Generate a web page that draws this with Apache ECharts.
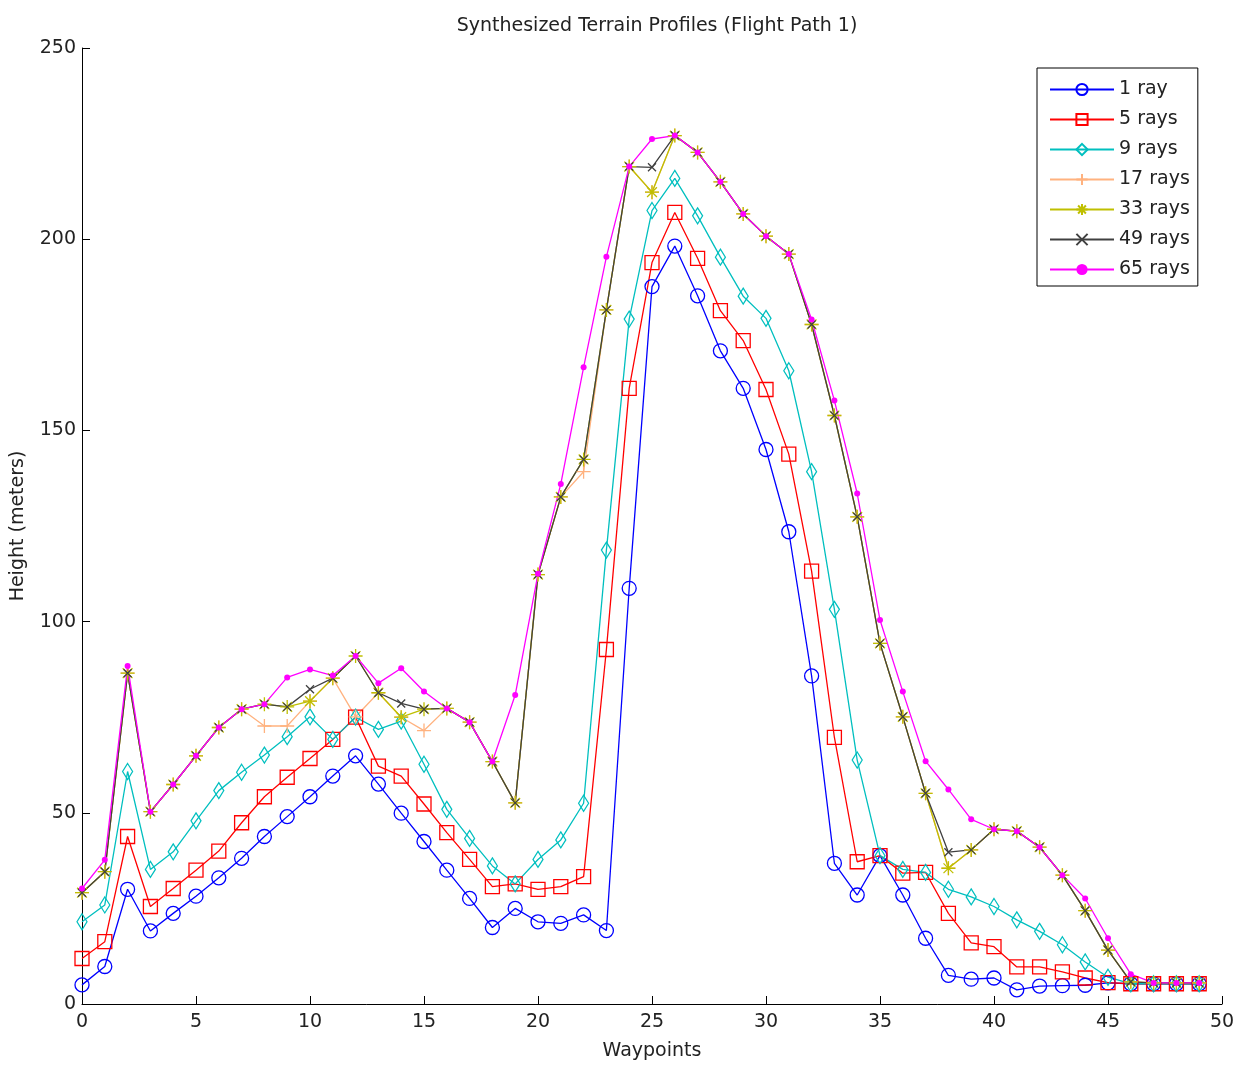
<!DOCTYPE html>
<html>
<head>
<meta charset="utf-8">
<script src="https://cdn.jsdelivr.net/npm/echarts@6/dist/echarts.min.js"></script>
<style>html,body{margin:0;padding:0;background:#fff}#c{width:1239px;height:1066px}</style>
</head>
<body>
<div id="c"></div>
<script>
var waypoints = [0,1,2,3,4,5,6,7,8,9,10,11,12,13,14,15,16,17,18,19,20,21,22,23,24,25,26,27,28,29,30,31,32,33,34,35,36,37,38,39,40,41,42,43,44,45,46,47,48,49];

var ray1 = [5, 9.8, 30, 19.1, 23.7, 28.2, 33, 38.1, 43.8, 49, 54.2, 59.6, 64.9, 57.5, 49.9, 42.5, 35, 27.6, 20, 25, 21.5, 21.1, 23.3, 19.2, 108.7, 187.6, 198.2, 185.2, 170.8, 161, 145, 123.5, 85.8, 36.8, 28.5, 38.8, 28.5, 17.2, 7.5, 6.5, 6.8, 3.7, 4.7, 4.8, 4.9, 5.5, 5.3, 5.3, 5.3, 5.3];
var rays5 = [11.9, 16.3, 43.8, 25.5, 30.2, 35, 40, 47.4, 54.2, 59.3, 64.2, 69.2, 75, 62.2, 59.6, 52.3, 44.8, 37.8, 30.7, 31.4, 30, 30.7, 33.3, 92.7, 161, 193.9, 207, 195, 181.3, 173.5, 160.7, 143.8, 113.2, 69.7, 37.2, 38.8, 34.2, 34.4, 23.7, 16, 15, 9.7, 9.7, 8.4, 6.8, 5.6, 5.3, 5.3, 5.3, 5.3];
var rays9 = [21.5, 25.9, 60.8, 35.2, 39.8, 47.9, 55.8, 60.6, 65.1, 69.9, 75.1, 69.2, 75, 71.8, 74, 62.7, 50.9, 43.3, 36.1, 31.4, 37.8, 42.9, 52.5, 118.7, 179.1, 207.5, 215.9, 206.1, 195.3, 185.1, 179.3, 165.6, 139.2, 103.2, 63.8, 38.8, 35.2, 34.4, 30, 28, 25.5, 22, 19, 15.5, 11, 7, 5.3, 5.3, 5.3, 5.3];
var rays17 = [29.1, 34.6, 86.5, 50.3, 57.4, 64.9, 72.3, 77.1, 72.7, 72.7, 79.2, 85.2, 75.1, 81.4, 75, 71.5, 77.3, 73.7, 63.4, 52.6, 112.3, 132.6, 139.2, 181.5, 219, 212.3, 227.1, 222.7, 215, 206.6, 200.8, 196.1, 177.7, 153.9, 127.4, 94.3, 75.1, 55.1, 35.5, 40.3, 45.7, 45.2, 41, 33.7, 24.4, 14.1, 5.8, 5.5, 5.5, 5.5];
var rays33 = [29.1, 34.6, 86.5, 50.3, 57.4, 64.9, 72.3, 77.1, 78.4, 77.7, 79.2, 85.2, 91, 81.4, 75, 77.1, 77.3, 73.7, 63.4, 52.6, 112.3, 132.6, 142.4, 181.5, 219, 212.3, 227.1, 222.7, 215, 206.6, 200.8, 196.1, 177.7, 153.9, 127.4, 94.3, 75.1, 55.1, 35.5, 40.3, 45.7, 45.2, 41, 33.7, 24.4, 14.1, 5.8, 5.5, 5.5, 5.5];
var rays49 = [29.1, 34.6, 86.5, 50.3, 57.4, 64.9, 72.3, 77.1, 78.4, 77.7, 82.3, 85.2, 91, 81.4, 78.6, 77.1, 77.3, 73.7, 63.4, 52.6, 112.3, 132.6, 142.4, 181.5, 219, 218.8, 227.1, 222.7, 215, 206.6, 200.8, 196.1, 177.7, 153.9, 127.4, 94.3, 75.1, 55.1, 39.7, 40.3, 45.7, 45.2, 41, 33.7, 24.4, 14.1, 5.8, 5.5, 5.5, 5.5];
var rays65 = [30.2, 37.7, 88.4, 50.3, 57.4, 64.9, 72.3, 77.1, 78.4, 85.4, 87.5, 85.9, 91, 83.9, 87.8, 81.7, 77.3, 73.7, 63.4, 80.8, 112.5, 136, 166.5, 195.4, 219, 226.2, 227.1, 222.7, 215, 206.6, 200.8, 196.1, 179, 157.8, 133.5, 100.4, 81.7, 63.5, 56.1, 48.3, 45.7, 45.2, 41, 33.7, 27.6, 17.2, 7.8, 5.5, 5.5, 5.5];

var seriesNames = ['1 ray', '5 rays', '9 rays', '17 rays', '33 rays', '49 rays', '65 rays'];
var seriesValues = [ray1, rays5, rays9, rays17, rays33, rays49, rays65];
var xTicks = [0, 5, 10, 15, 20, 25, 30, 35, 40, 45, 50];
var yTicks = [0, 50, 100, 150, 200, 250];

var FONT = 'DejaVu Sans';
var FS = 19;
var styles = [
  {color: '#0000FF', symbol: 'circle', size: 14, fill: false},
  {color: '#FF0000', symbol: 'rect', size: 14, fill: false},
  {color: '#00BFBF', symbol: 'diamond', size: [10, 16], fill: false},
  {color: '#FFB27F', symbol: 'path://M5,0L5,10M0,5L10,5', size: 14, fill: false},
  {color: '#BFBF00', symbol: 'path://M5,0L5,10M0,5L10,5M1.5,1.5L8.5,8.5M8.5,1.5L1.5,8.5', size: 14, fill: false},
  {color: '#404040', symbol: 'path://M0,0L10,10M10,0L0,10', size: 8, fill: false},
  {color: '#FF00FF', symbol: 'circle', size: 6, fill: true}
];

function pairs(vals) {
  return waypoints.map(function (w, i) { return [w, vals[i]]; });
}

var series = seriesNames.map(function (name, k) {
  var s = styles[k];
  return {
    name: name,
    type: 'line',
    data: pairs(seriesValues[k]),
    symbol: s.symbol,
    symbolSize: s.size,
    symbolKeepAspect: false,
    showAllSymbol: true,
    lineStyle: {color: s.color, width: 1.3},
    itemStyle: s.fill ? {color: s.color, borderColor: s.color, borderWidth: 0} :
      {color: 'rgba(0,0,0,0)', borderColor: s.color, borderWidth: 1.3},
    emphasis: {disabled: true},
    animation: false
  };
});

var chart = echarts.init(document.getElementById('c'), null, {renderer: 'canvas'});
chart.setOption({
  backgroundColor: '#ffffff',
  animation: false,
  title: {
    text: 'Synthesized Terrain Profiles (Flight Path 1)',
    left: 652, textAlign: 'center', top: 12,
    textStyle: {fontFamily: FONT, fontSize: FS, fontWeight: 'normal', color: '#222'}
  },
  legend: {
    orient: 'vertical',
    left: 1037, top: 68,
    padding: [12, 8, 7, 12],
    itemWidth: 64, itemHeight: 14, itemGap: 11,
    borderColor: '#000', borderWidth: 1,
    backgroundColor: '#fff',
    align: 'left',
    textStyle: {fontFamily: FONT, fontSize: FS, color: '#222'},
    data: seriesNames
  },
  grid: {left: 82, right: 17, top: 48, bottom: 62, containLabel: false},
  xAxis: {
    type: 'value', min: 0, max: 50, interval: 5,
    name: 'Waypoints', nameLocation: 'middle', nameGap: 38,
    nameTextStyle: {fontFamily: FONT, fontSize: FS, color: '#222'},
    axisLine: {show: true, lineStyle: {color: '#000', width: 1}},
    axisTick: {show: true, inside: true, length: 8, lineStyle: {color: '#000'}},
    axisLabel: {fontFamily: FONT, fontSize: FS, color: '#222', margin: 9,
      formatter: function (v) { return xTicks.indexOf(v) >= 0 ? String(v) : ''; }},
    splitLine: {show: false}
  },
  yAxis: {
    type: 'value', min: 0, max: 250, interval: 50,
    name: 'Height (meters)', nameLocation: 'middle', nameGap: 54, nameRotate: 90,
    nameTextStyle: {fontFamily: FONT, fontSize: FS, color: '#222'},
    axisLine: {show: true, lineStyle: {color: '#000', width: 1}},
    axisTick: {show: true, inside: true, length: 8, lineStyle: {color: '#000'}},
    axisLabel: {fontFamily: FONT, fontSize: FS, color: '#222', margin: 6,
      formatter: function (v) { return yTicks.indexOf(v) >= 0 ? String(v) : ''; }},
    splitLine: {show: false}
  },
  series: series
});
</script>
</body>
</html>
